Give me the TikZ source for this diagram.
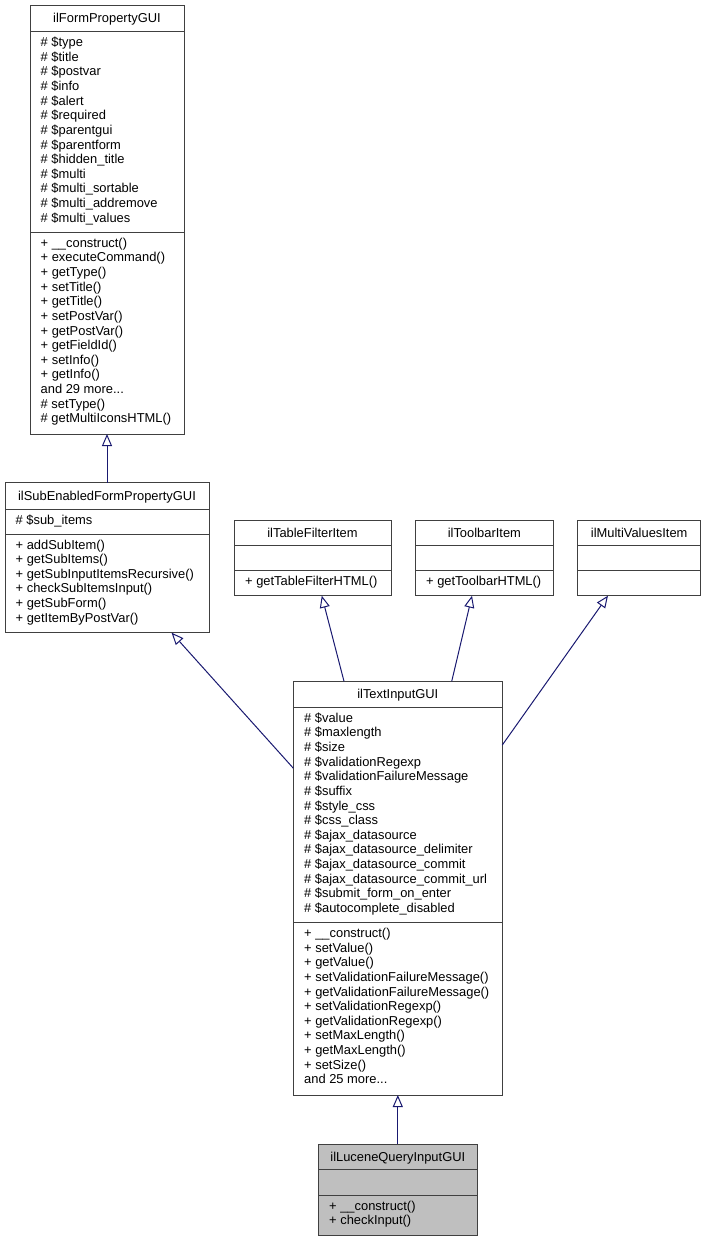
\documentclass[tikz,border=0pt]{standalone}
\usepackage{fontspec}
\setmainfont{Liberation Sans}
\usetikzlibrary{arrows.meta,calc}
\definecolor{arrowblue}{RGB}{25,25,112}
\definecolor{boxgray}{RGB}{64,64,64}
\definecolor{luc}{RGB}{191,191,191}
\newcommand\moreFP{and 29 more...}
\newcommand\moreTI{and 25 more...}
\begin{document}
\begin{tikzpicture}[x=1pt,y=-1pt,
  classbox/.style={draw=boxgray,line width=1pt,anchor=north west,inner sep=0pt,outer sep=0pt,fill=white},
  divline/.style={draw=boxgray,line width=1pt},
  txt/.style={anchor=base west,inner sep=0pt,font=\fontsize{12.9}{14.63}\selectfont},
  ttl/.style={anchor=base,inner sep=0pt,font=\fontsize{12.9}{14.63}\selectfont},
  inh/.style={draw=arrowblue,line width=1pt,-{Triangle[length=12pt,width=10pt,fill=white]}}]
\useasboundingbox (0,0) rectangle (706,1241);

% ilFormPropertyGUI
\node[classbox,minimum width=154pt,minimum height=428.7pt] (fp) at (30,5.3) {};
\draw[divline] (30,31.7) -- (184,31.7);
\draw[divline] (30,232.3) -- (184,232.3);
\node[ttl] (fpt) at (107,22.8) {ilFormPropertyGUI};
\foreach \t [count=\i from 0] in {\# \$type,\# \$title,\# \$postvar,\# \$info,\# \$alert,\# \$required,\# \$parentgui,\# \$parentform,\# \$hidden\_title,\# \$multi,\# \$multi\_sortable,\# \$multi\_addremove,\# \$multi\_values}
  \node[txt] (fpa\i) at (40.5,46.7+\i*14.63) {\t};
\foreach \t [count=\i from 0] in {+ \_\_construct(),+ executeCommand(),+ getType(),+ setTitle(),+ getTitle(),+ setPostVar(),+ getPostVar(),+ getFieldId(),+ setInfo(),+ getInfo(),\moreFP,\# setType(),\# getMultiIconsHTML()}
  \node[txt] (fpm\i) at (40.5,247.3+\i*14.63) {\t};

% ilSubEnabledFormPropertyGUI
\node[classbox,minimum width=204pt,minimum height=150pt] (se) at (5,482.7) {};
\draw[divline] (5,509.3) -- (209,509.3);
\draw[divline] (5,534) -- (209,534);
\node[ttl] (set) at (107,500.2) {ilSubEnabledFormPropertyGUI};
\node[txt] (sea0) at (15.5,524.3) {\# \$sub\_items};
\foreach \t [count=\i from 0] in {+ addSubItem(),+ getSubItems(),+ getSubInputItemsRecursive(),+ checkSubItemsInput(),+ getSubForm(),+ getItemByPostVar()}
  \node[txt] (sem\i) at (15.5,549+\i*14.63) {\t};

% ilTableFilterItem
\node[classbox,minimum width=157pt,minimum height=75.7pt] (tf) at (234,520) {};
\draw[divline] (234,545) -- (391,545);
\draw[divline] (234,570.3) -- (391,570.3);
\node[ttl] (tft) at (312.5,537.5) {ilTableFilterItem};
\node[txt] (tfm0) at (245,585.3) {+ getTableFilterHTML()};

% ilToolbarItem
\node[classbox,minimum width=138.7pt,minimum height=75.7pt] (tb) at (415,520) {};
\draw[divline] (415,545) -- (553.7,545);
\draw[divline] (415,570.3) -- (553.7,570.3);
\node[ttl] (tbt) at (484.35,537.5) {ilToolbarItem};
\node[txt] (tbm0) at (426,585.3) {+ getToolbarHTML()};

% ilMultiValuesItem
\node[classbox,minimum width=123pt,minimum height=75.7pt] (mv) at (577.7,520) {};
\draw[divline] (577.7,545) -- (700.7,545);
\draw[divline] (577.7,570.3) -- (700.7,570.3);
\node[ttl] (mvt) at (639.2,537.5) {ilMultiValuesItem};

% ilTextInputGUI
\node[classbox,minimum width=209pt,minimum height=413.7pt] (ti) at (293.3,681.3) {};
\draw[divline] (293.3,707.3) -- (502.3,707.3);
\draw[divline] (293.3,922.5) -- (502.3,922.5);
\node[ttl] (tit) at (397.8,698.8) {ilTextInputGUI};
\foreach \t [count=\i from 0] in {\# \$value,\# \$maxlength,\# \$size,\# \$validationRegexp,\# \$validationFailureMessage,\# \$suffix,\# \$style\_css,\# \$css\_class,\# \$ajax\_datasource,\# \$ajax\_datasource\_delimiter,\# \$ajax\_datasource\_commit,\# \$ajax\_datasource\_commit\_url,\# \$submit\_form\_on\_enter,\# \$autocomplete\_disabled}
  \node[txt] (tia\i) at (304,722.3+\i*14.63) {\t};
\foreach \t [count=\i from 0] in {+ \_\_construct(),+ setValue(),+ getValue(),+ setValidationFailureMessage(),+ getValidationFailureMessage(),+ setValidationRegexp(),+ getValidationRegexp(),+ setMaxLength(),+ getMaxLength(),+ setSize(),\moreTI}
  \node[txt] (tim\i) at (304,937.5+\i*14.63) {\t};

% ilLuceneQueryInputGUI
\node[classbox,fill=luc,minimum width=159pt,minimum height=90.7pt] (lq) at (318.3,1144.3) {};
\draw[divline] (318.3,1169.3) -- (477.3,1169.3);
\draw[divline] (318.3,1195.3) -- (477.3,1195.3);
\node[ttl] (lqt) at (397.8,1161.8) {ilLuceneQueryInputGUI};
\node[txt] (lqm0) at (329,1210.3) {+ \_\_construct()};
\node[txt] (lqm1) at (329,1224.93) {+ checkInput()};

% inheritance connectors
\draw[inh] (se.north) -- (fp.south);
\draw[inh] ($(ti.north west)!0.2426!(ti.north east)$) -- ($(tf.south west)!0.559!(tf.south east)$);
\draw[inh] ($(ti.north west)!0.758!(ti.north east)$) -- ($(tb.south west)!0.411!(tb.south east)$);
\draw[inh] ($(ti.north east)!0.154!(ti.south east)$) -- ($(mv.south west)!0.246!(mv.south east)$);
\draw[inh] ($(ti.north west)!0.210!(ti.south west)$) -- ($(se.south west)!0.8167!(se.south east)$);
\draw[inh] (lq.north) -- (ti.south);
\end{tikzpicture}
\end{document}
